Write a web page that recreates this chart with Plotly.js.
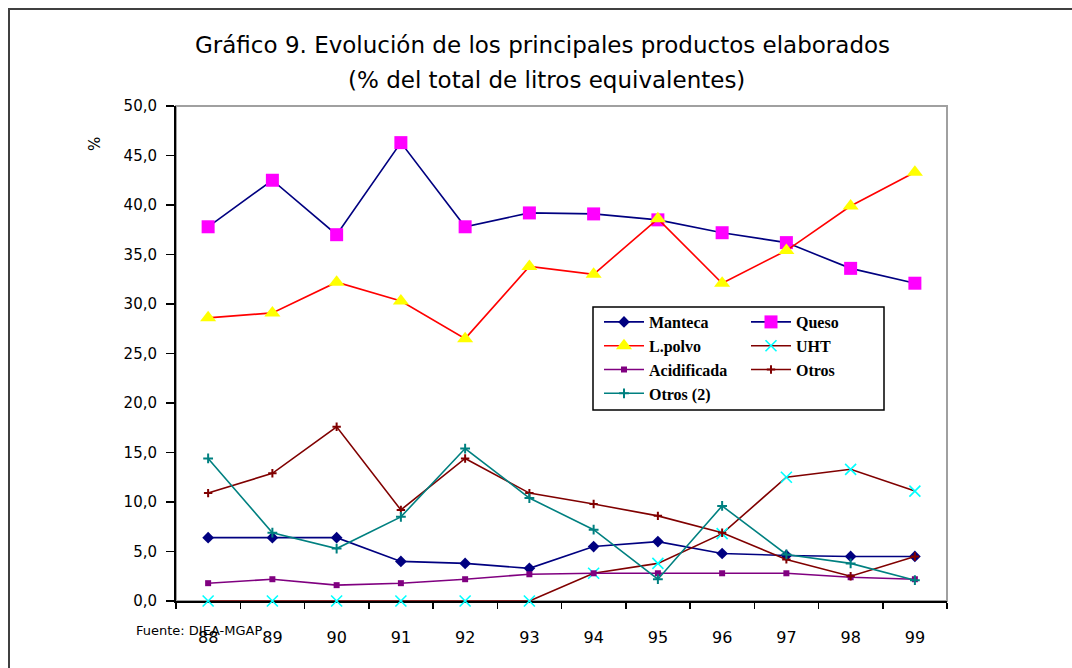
<!DOCTYPE html>
<html>
<head>
<meta charset="utf-8">
<script src="https://cdn.plot.ly/plotly-3.0.1.min.js"></script>
<style>
html,body{margin:0;padding:0;background:#fff;}
#chart{width:1072px;height:668px;}
</style>
</head>
<body>
<div id="chart"></div>
<script>
// Data
var years = ['88','89','90','91','92','93','94','95','96','97','98','99'];
var manteca = [6.4,6.4,6.4,4.0,3.8,3.3,5.5,6.0,4.8,4.6,4.5,4.5];
var queso = [37.8,42.5,37.0,46.3,37.8,39.2,39.1,38.5,37.2,36.2,33.6,32.1];
var lpolvo = [28.6,29.1,32.2,30.3,26.5,33.8,33.0,38.6,32.1,35.4,39.9,43.3];
var uht = [0,0,0,0,0,0,2.8,3.8,6.8,12.5,13.3,11.1];
var acidificada = [1.8,2.2,1.6,1.8,2.2,2.7,2.8,2.8,2.8,2.8,2.4,2.2];
var otros = [10.9,12.9,17.6,9.2,14.4,10.9,9.8,8.6,6.9,4.2,2.5,4.5];
var otros2 = [14.4,6.9,5.3,8.5,15.4,10.4,7.2,2.2,9.6,4.7,3.8,2.1];
var seriesNames = ['Manteca','Queso','L.polvo','UHT','Acidificada','Otros','Otros (2)'];
var yTitle = '%';
var titleLine1 = 'Gráfico 9. Evolución de los principales productos elaborados';
var titleLine2 = '(% del total de litros equivalentes)';
var sourceText = 'Fuente: DIEA-MGAP';

// pixel -> paper helpers (plot area: x 176..947, y 106..601)
function px(x) { return (x - 176) / 771; }
function py(y) { return (601 - y) / 495; }

function tr(name, y, lineColor, marker, legendId, rank) {
  return {
    x: years, y: y, name: name, type: 'scatter', mode: 'lines+markers',
    line: {color: lineColor, width: 1.6},
    marker: marker, cliponaxis: false,
    legend: legendId, legendrank: rank
  };
}

var traces = [
  tr(seriesNames[0], manteca, '#000080', {symbol: 'diamond', size: 9, color: '#000080'}, 'legend', 1),
  tr(seriesNames[1], queso, '#000080', {symbol: 'square', size: 13, color: '#FF00FF'}, 'legend2', 1),
  tr(seriesNames[2], lpolvo, '#FF0000', {symbol: 'triangle-up', size: 14, color: '#FFFF00'}, 'legend', 2),
  tr(seriesNames[3], uht, '#800000', {symbol: 'x-thin', size: 11, color: '#00FFFF', line: {color: '#00FFFF', width: 1.6}}, 'legend2', 2),
  tr(seriesNames[4], acidificada, '#800080', {symbol: 'square', size: 6, color: '#800080'}, 'legend', 3),
  tr(seriesNames[5], otros, '#800000', {symbol: 'cross-thin', size: 6, color: '#800000', line: {color: '#800000', width: 2}}, 'legend2', 3),
  tr(seriesNames[6], otros2, '#008080', {symbol: 'cross-thin', size: 7, color: '#008080', line: {color: '#008080', width: 2}}, 'legend', 4)
];

var titleFont = {family: 'DejaVu Sans, sans-serif', size: 23, color: '#000000'};
var legendFont = {family: 'Liberation Serif, serif', size: 16, color: '#000000', weight: 'bold'};

var layout = {
  width: 1072, height: 668,
  margin: {l: 176, r: 125, t: 106, b: 67, pad: 0},
  paper_bgcolor: '#ffffff', plot_bgcolor: '#ffffff',
  separators: ',.',
  showlegend: true,
  font: {family: 'DejaVu Sans, sans-serif', color: '#000000', size: 15},
  xaxis: {
    type: 'category', range: [-0.5, 11.5],
    tickson: 'boundaries', ticks: 'outside', ticklen: 6, tickwidth: 1.5, tickcolor: '#000000',
    showline: true, linecolor: '#000000', linewidth: 2,
    showgrid: false, zeroline: false,
    tickfont: {family: 'DejaVu Sans, sans-serif', size: 16, color: '#000000'},
    ticklabelstandoff: 21,
    layer: 'below traces',
    fixedrange: true
  },
  yaxis: {
    range: [0, 50], dtick: 5, tick0: 0, tickformat: '.1f',
    ticks: 'outside', ticklen: 8, tickwidth: 1.5, tickcolor: '#000000',
    showline: true, linecolor: '#000000', linewidth: 2,
    showgrid: false, zeroline: false,
    tickfont: {family: 'DejaVu Sans, sans-serif', size: 15, color: '#000000'},
    ticklabelstandoff: 6,
    fixedrange: true
  },
  legend: {
    orientation: 'v', x: px(599), xanchor: 'left', y: py(305), yanchor: 'top',
    bgcolor: 'rgba(0,0,0,0)', borderwidth: 0, itemwidth: 40,
    font: legendFont, traceorder: 'normal', tracegroupgap: 0
  },
  legend2: {
    orientation: 'v', x: px(746), xanchor: 'left', y: py(305), yanchor: 'top',
    bgcolor: 'rgba(0,0,0,0)', borderwidth: 0, itemwidth: 40,
    font: legendFont, traceorder: 'normal', tracegroupgap: 0
  },
  shapes: [
    {type: 'rect', xref: 'paper', yref: 'paper', x0: 0, x1: 1, y0: 0, y1: 1,
     line: {color: '#a0a0a0', width: 2}, fillcolor: 'rgba(0,0,0,0)', layer: 'below'},
    {type: 'rect', xref: 'paper', yref: 'paper', x0: px(9), x1: 1.3, y0: -0.3, y1: py(9),
     line: {color: '#404040', width: 2}, fillcolor: 'rgba(0,0,0,0)', layer: 'below'},
    {type: 'rect', xref: 'paper', yref: 'paper', x0: px(593), x1: px(884), y0: py(410), y1: py(307),
     line: {color: '#000000', width: 1.5}, fillcolor: '#ffffff', layer: 'above'}
  ],
  annotations: [
    {text: titleLine1, xref: 'paper', yref: 'paper', x: px(542), y: py(45),
     xanchor: 'center', yanchor: 'middle', showarrow: false, font: titleFont},
    {text: titleLine2, xref: 'paper', yref: 'paper', x: px(546), y: py(80),
     xanchor: 'center', yanchor: 'middle', showarrow: false, font: titleFont},
    {text: yTitle, xref: 'paper', yref: 'paper', x: px(84), y: py(135),
     showarrow: false, textangle: -90, font: {family: 'DejaVu Sans, sans-serif', size: 15, color: '#000000'}},
    {text: sourceText, xref: 'paper', yref: 'paper', x: px(134), y: py(630),
     xanchor: 'left', yanchor: 'middle', showarrow: false,
     font: {family: 'DejaVu Sans, sans-serif', size: 13, color: '#000000'}}
  ]
};

Plotly.newPlot('chart', traces, layout, {displayModeBar: false, staticPlot: true});
</script>
</body>
</html>
